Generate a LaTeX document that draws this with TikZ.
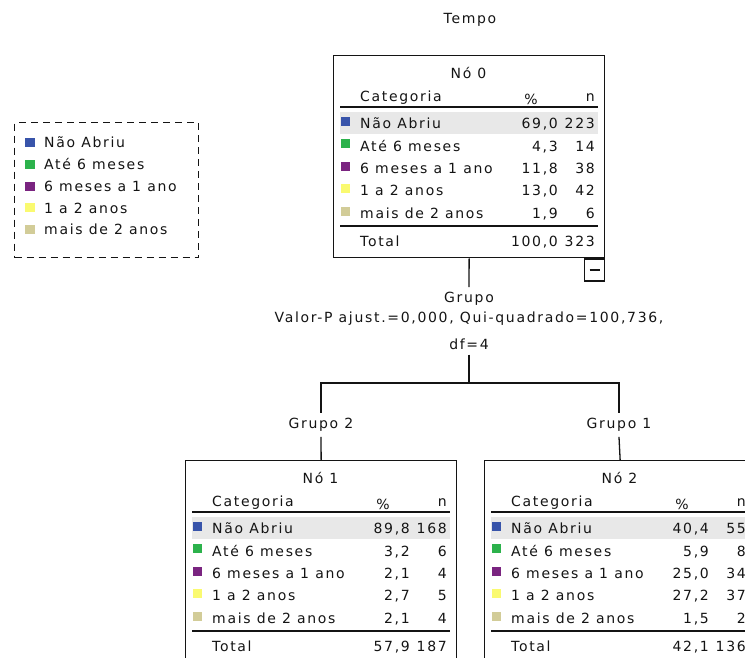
\documentclass[tikz,border=0pt]{standalone}
\usepackage{fontspec}
\setmainfont[LetterSpace=12]{DejaVu Sans}

\definecolor{catA}{RGB}{56,84,170}
\definecolor{catB}{RGB}{44,178,76}
\definecolor{catC}{RGB}{122,36,128}
\definecolor{catD}{RGB}{250,250,112}
\definecolor{catE}{RGB}{210,204,152}
\definecolor{rowhi}{RGB}{232,232,232}
\definecolor{ink}{RGB}{20,20,20}

\tikzset{
  txt/.style={inner sep=0pt, font=\fontsize{14}{16}\selectfont, text=ink},
  lbl/.style={txt, inner xsep=0pt, inner ysep=5pt},
  frame/.style={draw=ink, line width=1.3pt, fill=white, inner sep=0pt,
                minimum width=271pt, minimum height=202pt, anchor=north west},
  hrule/.style={draw=ink, line width=1.6pt},
  conn/.style={draw=ink, line width=1.3pt},
}

% One category table: #1 name, #2 left, #3 top, #4 title, #5 rows, #6/#7 totals
\newcommand\catbox[7]{%
  \node[frame] (#1) at (#2,#3) {};
  \begin{scope}[shift={(#2,#3)}]
    \fill[rowhi] (7,57) rectangle (265,79);
    \node[txt] (#1-title) at (135.5,18) {#4};
    \node[txt, anchor=mid west] (#1-hcat) at (27,44) {Categoria};
    \node[txt] (#1-hpct) at (198,44) {\%};
    \node[txt, anchor=mid east] (#1-hn) at (262,44) {n};
    \draw[hrule] (7,52) -- (265,52);
    \foreach \cc/\lab/\pp/\nn [count=\i] in {#5} {
      \pgfmathsetmacro\yy{71+22.4*(\i-1)}
      \fill[\cc] (8,\yy-9) rectangle (17,\yy);
      \node[txt, anchor=mid west] (#1-lab\i) at (27,\yy) {\lab};
      \node[txt, anchor=mid east] (#1-pct\i) at (225,\yy) {\pp};
      \node[txt, anchor=mid east] (#1-n\i) at (262,\yy) {\nn};
    }
    \draw[hrule] (7,171) -- (265,171);
    \node[txt, anchor=mid west] (#1-tot) at (27,189) {Total};
    \node[txt, anchor=mid east] (#1-totpct) at (225,189) {#6};
    \node[txt, anchor=mid east] (#1-totn) at (262,189) {#7};
  \end{scope}}

\begin{document}
\begin{tikzpicture}[x=1pt, y=-1pt]
  \clip (0,0) rectangle (745,657);
  \fill[white] (0,0) rectangle (745,657);

  % dependent variable
  \node[txt] (target) at (470,20) {Tempo};

  % legend
  \node[draw=ink, line width=1.3pt, dash pattern=on 7pt off 5pt,
        minimum width=184pt, minimum height=135pt, anchor=north west,
        inner sep=0pt] (legend) at (14,122) {};
  \foreach \cc/\lab [count=\i] in {catA/Não Abriu, catB/Até 6 meses,
      catC/6 meses a 1 ano, catD/1 a 2 anos, catE/mais de 2 anos} {
    \pgfmathsetmacro\yy{145+21.8*(\i-1)}
    \fill[\cc] (25,\yy-7) rectangle (35,\yy+2);
    \node[txt, anchor=mid west] (leg\i) at (44,\yy) {\lab};
  }

  % root node
  \catbox{n0}{333}{55}{Nó 0}{catA/Não Abriu/{69,0}/223, catB/Até 6 meses/{4,3}/14,
    catC/6 meses a 1 ano/{11,8}/38, catD/1 a 2 anos/{13,0}/42,
    catE/mais de 2 anos/{1,9}/6}{100,0}{323}
  \node[draw=ink, line width=1.3pt, fill=white, inner sep=0pt,
        minimum width=20pt, minimum height=22pt, anchor=north east]
    (n0-toggle) at (n0.south east) {};
  \draw[ink, line width=1.3pt] ([xshift=-5pt]n0-toggle.center) -- ([xshift=5pt]n0-toggle.center);

  % split description
  \node[lbl] (split) at (469,299) {Grupo};
  \node[txt] (stat) at (469,319) {Valor-P ajust.=0,000, Qui-quadrado=100,736,};
  \node[lbl] (df) at (469,344) {df=4};
  \coordinate (fork) at (469,383);
  \draw[conn] (n0.south) -- (split.north);
  \draw[conn] (df.south) -- (fork);

  % branches
  \node[lbl] (g2) at (321,425) {Grupo 2};
  \node[lbl] (g1) at (619,425) {Grupo 1};
  \draw[conn] (fork) -| (g2.north);
  \draw[conn] (fork) -| (g1.north);

  \catbox{n1}{185}{460}{Nó 1}{catA/Não Abriu/{89,8}/168, catB/Até 6 meses/{3,2}/6,
    catC/6 meses a 1 ano/{2,1}/4, catD/1 a 2 anos/{2,7}/5,
    catE/mais de 2 anos/{2,1}/4}{57,9}{187}
  \catbox{n2}{484}{460}{Nó 2}{catA/Não Abriu/{40,4}/55, catB/Até 6 meses/{5,9}/8,
    catC/6 meses a 1 ano/{25,0}/34, catD/1 a 2 anos/{27,2}/37,
    catE/mais de 2 anos/{1,5}/2}{42,1}{136}

  \draw[conn] (g2.south) -- (n1.north);
  \draw[conn] (g1.south) -- (n2.north);
\end{tikzpicture}
\end{document}
